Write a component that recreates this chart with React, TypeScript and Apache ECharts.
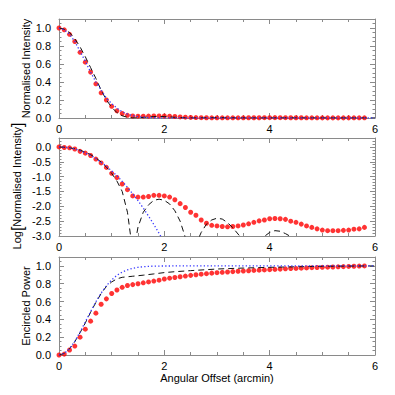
import React, { useEffect, useRef } from 'react';
import * as echarts from 'echarts';

// Red measured points (x in arcmin)
const dotX = [0, 0.1, 0.2, 0.3, 0.4, 0.5, 0.6, 0.7, 0.8, 0.9, 1.0, 1.1, 1.2, 1.3, 1.4, 1.5, 1.6, 1.7, 1.8, 1.9,
  2.0, 2.1, 2.2, 2.3, 2.4, 2.5, 2.6, 2.7, 2.8, 2.9, 3.0, 3.1, 3.2, 3.3, 3.4, 3.5, 3.6, 3.7, 3.8, 3.9,
  4.0, 4.1, 4.2, 4.3, 4.4, 4.5, 4.6, 4.7, 4.8, 4.9, 5.0, 5.1, 5.2, 5.3, 5.4, 5.5, 5.6, 5.7, 5.8];

const topRed = [1.0, 0.98, 0.93, 0.85, 0.73, 0.62, 0.51, 0.38, 0.28, 0.2, 0.13, 0.08, 0.05, 0.03, 0.022, 0.02, 0.02, 0.021, 0.023, 0.023,
  0.022, 0.02, 0.017, 0.012, 0.009, 0.006, 0.005, 0.0035, 0.0027, 0.0023, 0.0022, 0.0021, 0.002, 0.0021, 0.0022, 0.0023, 0.0026, 0.0029, 0.0032, 0.0035,
  0.0038, 0.0039, 0.0038, 0.0036, 0.0032, 0.0029, 0.0025, 0.0022, 0.0019, 0.0017, 0.0016, 0.0015, 0.0015, 0.0015, 0.0015, 0.0016, 0.0017, 0.0017, 0.0019];

const midRed = [0, -0.02, -0.03, -0.07, -0.15, -0.21, -0.29, -0.41, -0.54, -0.69, -0.89, -1.03, -1.25, -1.44, -1.65, -1.69, -1.69, -1.67, -1.63, -1.63,
  -1.65, -1.69, -1.78, -1.91, -2.04, -2.2, -2.3, -2.46, -2.57, -2.64, -2.66, -2.68, -2.69, -2.68, -2.66, -2.63, -2.59, -2.54, -2.49, -2.46,
  -2.42, -2.41, -2.42, -2.44, -2.5, -2.54, -2.6, -2.66, -2.71, -2.76, -2.8, -2.82, -2.82, -2.82, -2.81, -2.8, -2.77, -2.76, -2.71];

const botRed = [0, 0.01, 0.056, 0.1, 0.2, 0.29, 0.38, 0.47, 0.57, 0.63, 0.69, 0.73, 0.76, 0.78, 0.79, 0.8, 0.81, 0.82, 0.83, 0.84,
  0.853, 0.862, 0.87, 0.878, 0.886, 0.894, 0.901, 0.907, 0.913, 0.919, 0.924, 0.928, 0.932, 0.936, 0.94, 0.943, 0.946, 0.949, 0.952, 0.955,
  0.958, 0.961, 0.964, 0.967, 0.97, 0.972, 0.975, 0.977, 0.98, 0.982, 0.984, 0.986, 0.988, 0.99, 0.992, 0.994, 0.996, 0.998, 1.0];

// Black dashed model (diffraction pattern)
const topDashX = [0, 0.1, 0.2, 0.3, 0.4, 0.5, 0.6, 0.7, 0.8, 0.9, 1.0, 1.1, 1.2, 1.3, 1.4, 1.5, 1.6, 1.8, 2.0, 2.2, 2.4, 2.6, 3.0, 3.5, 4.0, 4.5, 5.0, 5.5, 6.0];
const topDashY = [1.0, 0.985, 0.95, 0.88, 0.79, 0.68, 0.56, 0.44, 0.31, 0.2, 0.12, 0.06, 0.025, 0.008, 0.001, 0.002, 0.007, 0.016, 0.016, 0.008, 0.002, 0.001, 0.004, 0.001, 0.001, 0.002, 0.001, 0.0005, 0.0008];

const midDashX = [0, 0.1, 0.2, 0.3, 0.4, 0.5, 0.6, 0.7, 0.8, 0.9, 1.0, 1.1, 1.2, 1.3, 1.36, 1.41, 1.47, 1.5, 1.6, 1.7, 1.8, 1.9, 2.0, 2.1, 2.2, 2.3, 2.39, 2.53, 2.67, 2.7, 2.8, 2.9, 3.0, 3.1, 3.2, 3.3, 3.43, 3.66, 3.91, 4.0, 4.1, 4.2, 4.3, 4.38, 4.8, 5.2, 5.6, 6.0];
const midDashY = [0, -0.01, -0.03, -0.06, -0.11, -0.18, -0.26, -0.37, -0.51, -0.68, -0.89, -1.15, -1.5, -2.2, -3.0, -4.5, -3.0, -2.7, -2.2, -1.95, -1.8, -1.76, -1.8, -1.92, -2.15, -2.5, -3.0, -4.5, -3.0, -2.88, -2.6, -2.46, -2.4, -2.43, -2.55, -2.72, -3.0, -4.5, -3.0, -2.88, -2.82, -2.84, -2.92, -3.0, -4.5, -3.2, -4.5, -3.4];

const botDashX = [0, 0.1, 0.2, 0.3, 0.4, 0.5, 0.6, 0.7, 0.8, 0.9, 1.0, 1.1, 1.2, 1.3, 1.4, 1.5, 1.6, 1.8, 2.0, 2.2, 2.5, 2.8, 3.0, 3.5, 4.0, 4.5, 5.0, 5.5, 6.0];
const botDashY = [0, 0.018, 0.07, 0.15, 0.25, 0.36, 0.48, 0.59, 0.69, 0.77, 0.82, 0.855, 0.872, 0.878, 0.884, 0.89, 0.896, 0.91, 0.925, 0.935, 0.947, 0.958, 0.965, 0.976, 0.984, 0.99, 0.995, 0.998, 1.0];

// Blue dotted model (Gaussian)
const topGaussX = [0, 0.1, 0.2, 0.3, 0.4, 0.5, 0.6, 0.7, 0.8, 0.9, 1.0, 1.1, 1.2, 1.3, 1.4, 1.5, 1.6, 1.7, 1.8, 1.9, 2.0, 2.5, 3.0, 6.0];
const topGaussY = [1, 0.98, 0.93, 0.85, 0.74, 0.63, 0.51, 0.4, 0.31, 0.22, 0.16, 0.11, 0.07, 0.043, 0.026, 0.016, 0.009, 0.005, 0.003, 0.002, 0.001, 0, 0, 0];

const midGaussX = [0, 0.1, 0.2, 0.3, 0.4, 0.5, 0.6, 0.7, 0.8, 0.9, 1.0, 1.1, 1.2, 1.3, 1.4, 1.5, 1.6, 1.7, 1.8, 1.9, 2.0, 2.1];
const midGaussY = [0, -0.008, -0.03, -0.07, -0.13, -0.2, -0.29, -0.39, -0.52, -0.65, -0.81, -0.97, -1.16, -1.36, -1.58, -1.81, -2.06, -2.33, -2.61, -2.91, -3.22, -3.55];

const botGaussX = [0, 0.1, 0.2, 0.3, 0.4, 0.5, 0.6, 0.7, 0.8, 0.9, 1.0, 1.1, 1.2, 1.3, 1.4, 1.5, 1.6, 1.8, 2.0, 2.5, 6.0];
const botGaussY = [0, 0.018, 0.071, 0.154, 0.257, 0.371, 0.487, 0.597, 0.695, 0.777, 0.843, 0.894, 0.931, 0.956, 0.974, 0.984, 0.991, 0.998, 0.999, 1.0, 1.0];

const xTicks = { min: 0, max: 6, interval: 2 };
const yScales = [
  { min: 0, max: 1.1, interval: 0.2, minor: 0.05 },
  { min: -3, max: 0.3, interval: 0.5, minor: 0.1 },
  { min: 0, max: 1.1, interval: 0.2, minor: 0.05 },
];
const yTitles = ['Normalised Intensity', 'Log{b|[}Normalised Intensity{b|]}', 'Encircled Power'];
const xTitle = 'Angular Offset (arcmin)';

const FRAME = '#8a8a8a';
const FONT = 'Liberation Sans';
const gridBoxes = [
  { left: 59, top: 19, width: 316, height: 99 },
  { left: 59, top: 138, width: 316, height: 98 },
  { left: 59, top: 257, width: 316, height: 98 },
];
const yTitlePos = [[26, 68.5], [17, 186], [26, 306]];

const pairs = (xs: number[], ys: number[]) => xs.map((x, i) => [x, ys[i]]);

export default function App() {
  const ref = useRef<HTMLDivElement>(null);
  useEffect(() => {
    if (!ref.current) return;
    const chart = echarts.init(ref.current, null, { renderer: 'svg' });
    const xAxis: any[] = [];
    const yAxis: any[] = [];
    const series: any[] = [];
    const panels = [
      { red: topRed, dash: pairs(topDashX, topDashY), gauss: pairs(topGaussX, topGaussY) },
      { red: midRed, dash: pairs(midDashX, midDashY), gauss: pairs(midGaussX, midGaussY) },
      { red: botRed, dash: pairs(botDashX, botDashY), gauss: pairs(botGaussX, botGaussY) },
    ];
    gridBoxes.forEach((_, g) => {
      const line = { show: true, onZero: false, lineStyle: { color: FRAME, width: 1 } };
      ['bottom', 'top'].forEach((pos) => {
        xAxis.push({
          gridIndex: g, type: 'value', position: pos, ...xTicks,
          axisLine: line,
          axisTick: { show: true, inside: true, length: 5, lineStyle: { color: FRAME } },
          minorTick: { show: true, splitNumber: 4, length: 3, lineStyle: { color: FRAME } },
          splitLine: { show: false },
          axisLabel: pos === 'bottom'
            ? { show: true, color: '#000', fontSize: 11, fontFamily: FONT, margin: 5, formatter: (v: number) => String(v) }
            : { show: false },
        });
      });
      const ys = yScales[g];
      ['left', 'right'].forEach((pos) => {
        yAxis.push({
          gridIndex: g, type: 'value', position: pos, min: ys.min, max: ys.max, interval: ys.interval,
          axisLine: line,
          axisTick: { show: true, inside: true, length: 5, lineStyle: { color: FRAME } },
          splitLine: { show: false },
          axisLabel: pos === 'left'
            ? { show: true, color: '#000', fontSize: 11, fontFamily: FONT, margin: 8, showMaxLabel: false, formatter: (v: number) => v.toFixed(1) }
            : { show: false },
        });
        yAxis.push({
          gridIndex: g, type: 'value', position: pos, min: ys.min, max: ys.max, interval: ys.minor,
          axisLine: { show: false, onZero: false },
          axisTick: { show: true, inside: true, length: 2.5, lineStyle: { color: FRAME } },
          splitLine: { show: false },
          axisLabel: { show: false },
        });
      });
      const p = panels[g];
      series.push({
        type: 'line', xAxisIndex: 2 * g, yAxisIndex: 4 * g, data: p.dash, symbol: 'none', clip: true, silent: true,
        lineStyle: { color: '#111', width: 1, type: [6, 4] },
      });
      series.push({
        type: 'line', xAxisIndex: 2 * g, yAxisIndex: 4 * g, data: p.gauss, symbol: 'none', clip: true, silent: true,
        lineStyle: { color: '#3a3aff', width: 1.3, type: [1.3, 2.2] },
      });
      series.push({
        type: 'scatter', xAxisIndex: 2 * g, yAxisIndex: 4 * g, data: pairs(dotX, p.red), symbol: 'circle', symbolSize: 5,
        clip: true, silent: true, itemStyle: { color: '#ff0000' },
      });
    });
    const graphic: any[] = yTitles.map((t, i) => ({
      type: 'text', x: yTitlePos[i][0], y: yTitlePos[i][1], rotation: Math.PI / 2,
      style: {
        text: t, fill: '#000', fontSize: 11, fontFamily: FONT, align: 'center', verticalAlign: 'middle',
        rich: { b: { fontSize: 16, fontFamily: FONT, fill: '#000' } },
      },
    }));
    graphic.push({
      type: 'text', x: 217, y: 378,
      style: { text: xTitle, fill: '#000', fontSize: 11, fontFamily: FONT, align: 'center', verticalAlign: 'middle' },
    });
    chart.setOption({
      animation: false,
      backgroundColor: '#fff',
      grid: gridBoxes,
      xAxis, yAxis, series, graphic,
    });
    return () => chart.dispose();
  }, []);
  return <div ref={ref} style={{ position: 'absolute', left: 0, top: 0, width: 395, height: 395 }} />;
}
